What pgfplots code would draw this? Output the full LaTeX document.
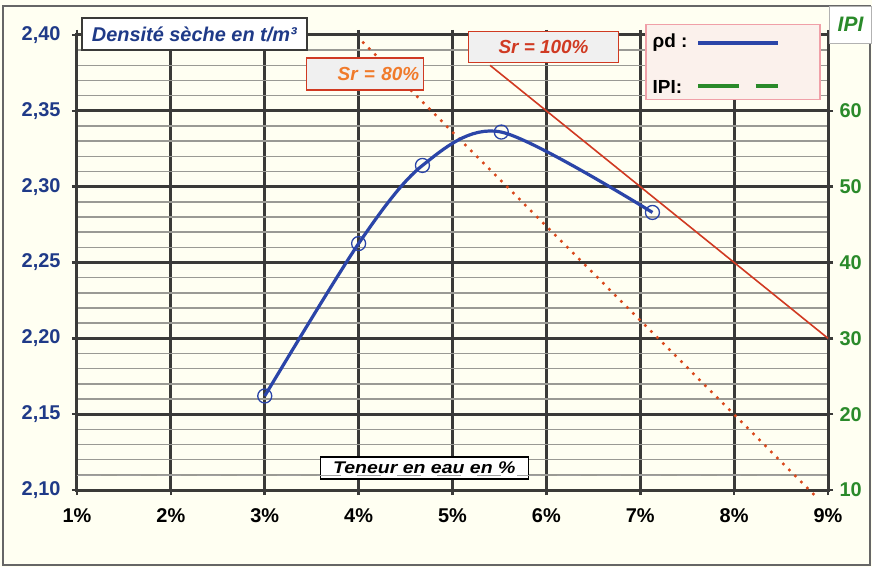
\documentclass[border=0pt]{standalone}
\usepackage{pgfplots}
\pgfplotsset{compat=1.18}
\usepackage{fontspec}
\setmainfont{Liberation Sans}
\newfontfamily\widefont[FakeStretch=1.15]{Liberation Sans}
\definecolor{bg}{HTML}{FFFFF2}
\definecolor{tickblue}{HTML}{1F3A88}
\definecolor{ipigreen}{HTML}{2A8A2A}
\definecolor{curveblue}{HTML}{2B45A8}
\definecolor{srred}{HTML}{D03A22}
\definecolor{srorange}{HTML}{F07A2A}
\definecolor{majgrid}{HTML}{3A3A38}
\definecolor{mingrid}{HTML}{9A9A94}
\definecolor{legfill}{HTML}{FBF1EC}
\definecolor{legdraw}{HTML}{F0A0A8}
\begin{document}
\begin{tikzpicture}
% background and outer frame (pixel 0..872 x 0..567, axis SW at px 77,490)
\fill[bg] (-77bp,-77bp) rectangle (795bp,490bp);
\draw[gray!80!black, line width=1.5bp] (-74bp,-75bp) rectangle (793bp,484bp);
\path[use as bounding box] (-77bp,-77bp) rectangle (795bp,490bp);

\begin{axis}[
    scale only axis,
    width=751bp, height=455bp,
    xmin=1, xmax=9,
    ymin=2.10, ymax=2.40,
    xtick={1,2,3,4,5,6,7,8,9},
    xticklabels={1\%,2\%,3\%,4\%,5\%,6\%,7\%,8\%,9\%},
    ytick={2.10,2.15,2.20,2.25,2.30,2.35,2.40},
    minor y tick num=4,
    xmajorgrids, ymajorgrids, yminorgrids,
    major grid style={majgrid, line width=3bp},
    minor grid style={mingrid, line width=1.5bp},
    axis line style={majgrid, line width=3bp},
    tick align=center,
    major tick length=10bp, minor tick length=0pt,
    major tick style={majgrid, line width=2.5bp},
    axis background/.style={fill=bg},
    /pgf/number format/.cd, fixed, fixed zerofill, precision=2, use comma, assume math mode=true,
    /pgfplots/.cd,
    yticklabel style={text=tickblue, font=\bfseries\fontsize{20}{22}\selectfont, xshift=-8bp},
    xticklabel style={text=black, font=\bfseries\fontsize{20}{22}\selectfont, yshift=-10bp},
    clip=false,
]
% Sr = 100% line
\addplot[srred, line width=1.6bp] coordinates {(5.40,2.38) (9,2.20)};
% Sr = 80% line
\addplot[srred!80!orange, line width=3.5bp, line cap=round, dash pattern=on 0bp off 8.5bp] coordinates {(4.05,2.395) (8.85,2.097)};
% rho_d curve
\addplot[curveblue, line width=3.2bp, smooth, mark=o, mark size=7bp,
    mark options={line width=1.3bp, fill=none}] coordinates {
    (3,2.162) (4,2.2625) (4.68,2.314) (5.52,2.336) (7.13,2.283)};

% boxes and labels
\node[draw=majgrid, line width=1.8bp, fill=white, minimum width=225bp, minimum height=32bp,
    text=tickblue, font=\bfseries\itshape\fontsize{20}{22}\selectfont]
    at (axis cs:2.25,2.4007) {Densité sèche en t/m³};
\node[draw=srred, line width=1.4bp, fill=gray!12, minimum width=117bp, minimum height=32bp,
    text width=108bp, align=right,
    text=srorange, font=\bfseries\itshape\fontsize{19}{21}\selectfont]
    at (axis cs:4.07,2.3743) {Sr = 80\%};
\node[draw=srred, line width=1.6bp, fill=gray!12, minimum width=150bp, minimum height=31bp,
    text=srred, font=\bfseries\itshape\fontsize{19}{21}\selectfont]
    at (axis cs:5.97,2.392) {Sr = 100\%};
\node[draw=legdraw, line width=1.4bp, fill=legfill, minimum width=174bp, minimum height=75bp]
    at (axis cs:7.99,2.382) {};
\node[anchor=west, inner sep=0pt, font=\bfseries\fontsize{19}{21}\selectfont] at (axis cs:7.13,2.3947) {ρd :};
\draw[curveblue, line width=3.2bp] (axis cs:7.62,2.3947) -- (axis cs:8.47,2.3947);
\node[anchor=west, inner sep=0pt, font=\bfseries\fontsize{19}{21}\selectfont] at (axis cs:7.13,2.3655) {IPI:};
\draw[ipigreen, line width=3.2bp] (axis cs:7.62,2.3664) -- (axis cs:8.05,2.3664);
\draw[ipigreen, line width=3.2bp] (axis cs:8.23,2.3664) -- (axis cs:8.47,2.3664);
\node[draw=gray!60, fill=white, minimum width=42bp, minimum height=37bp,
    text=ipigreen, font=\bfseries\itshape\fontsize{21}{23}\selectfont]
    at (axis cs:9.24,2.407) {IPI};
\node[draw=black, line width=1.6bp, fill=white, minimum width=208bp, minimum height=22bp, inner sep=1bp,
    font=\widefont\bfseries\itshape\fontsize{17}{19}\selectfont]
    at (axis cs:4.70,2.1145) {Teneur en eau en \%};
\end{axis}

\begin{axis}[
    scale only axis,
    width=751bp, height=455bp,
    xmin=1, xmax=9,
    ymin=10, ymax=70,
    axis x line=none,
    axis y line*=right,
    y axis line style={draw=none},
    ytick={10,20,30,40,50,60},
    major tick length=0pt,
    /pgf/number format/assume math mode=true,
    yticklabel style={text=ipigreen, font=\bfseries\fontsize{20}{22}\selectfont, xshift=8bp},
]
% IPI trace (faint dashed)
\addplot[gray!75, line width=1.3bp, dash pattern=on 24bp off 16bp] coordinates {(1,11.9) (9,11.9)};
\end{axis}
\end{tikzpicture}
\end{document}
